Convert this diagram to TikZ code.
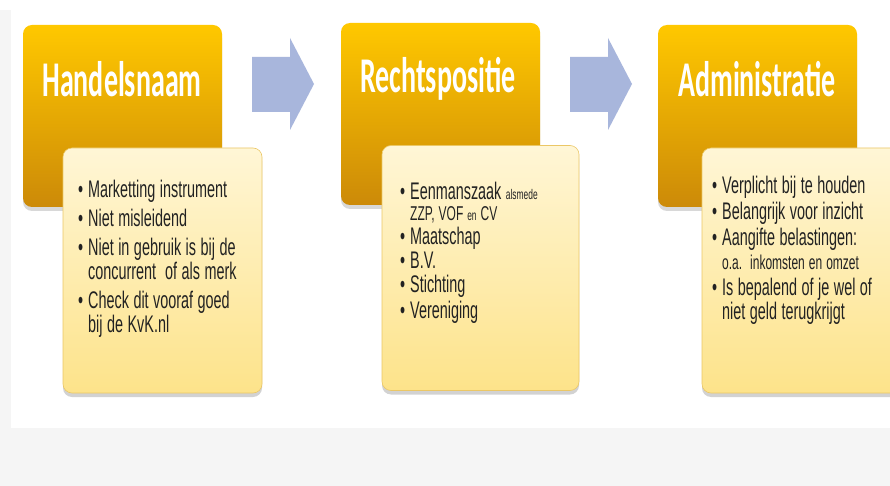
\documentclass[tikz,border=0pt]{standalone}
\usepackage{fontspec}
\setmainfont{Liberation Sans}[FakeStretch=0.6]
\newfontfamily\headfont{Carlito}[FakeStretch=0.56]
\usetikzlibrary{positioning,shadows}

\definecolor{bggray}{HTML}{F5F5F5}
\definecolor{orangetop}{HTML}{FFC800}
\definecolor{orangebot}{HTML}{CC8A08}
\definecolor{creamtop}{HTML}{FFF6D6}
\definecolor{creambot}{HTML}{FDE38A}
\definecolor{creamline}{HTML}{EBC766}
\definecolor{arrowblue}{HTML}{A8B6DC}
\definecolor{textgray}{HTML}{222222}

\newenvironment{bulletlist}{\begin{list}{\textbullet}{%
  \setlength{\leftmargin}{11pt}\setlength{\labelwidth}{6pt}%
  \setlength{\labelsep}{5pt}\setlength{\itemsep}{5pt}%
  \setlength{\parsep}{0pt}\setlength{\topsep}{0pt}\setlength{\partopsep}{0pt}}%
  \spaceskip=4.5pt plus 1pt minus 1pt\relax\xspaceskip=5pt\relax}%
  {\end{list}}
\newcommand{\itemfont}{\fontsize{24}{24}\selectfont}
\newcommand{\smallfont}{\fontsize{20}{20}\selectfont\spaceskip=4pt plus 1pt minus 1pt\relax}
\newcommand{\tinyword}[1]{{\fontsize{14}{14}\selectfont\spaceskip=3pt\relax #1}}

\tikzset{
  headbox/.style={rounded corners=9pt, top color=orangetop, bottom color=orangebot,
    minimum width=199pt, minimum height=182pt, inner sep=0pt,
    drop shadow={shadow xshift=0pt, shadow yshift=-4pt, opacity=0.3}},
  notebox/.style={rounded corners=9pt, draw=creamline, line width=0.6pt,
    top color=creamtop, bottom color=creambot, minimum width=199pt,
    minimum height=245pt, inner sep=0pt,
    drop shadow={shadow xshift=0pt, shadow yshift=-4pt, opacity=0.35}},
  headtext/.style={text=white, inner sep=0pt,
    font=\headfont\bfseries\fontsize{50}{50}\selectfont},
  itemtext/.style={text=textgray, text width=190pt, align=left, anchor=north west,
    inner sep=0pt, font=\itemfont},
  flowarrow/.style={fill=arrowblue},
}

\begin{document}
\begin{tikzpicture}[x=1pt, y=-1pt]
  \clip (0,0) rectangle (890,486);
  \fill[bggray] (0,0) rectangle (890,486);
  \fill[white] (11,0) rectangle (890,428);
  \fill[white] (0,0) rectangle (11,10);

  \node[headbox] (hnaam) at (122.5,116) {};
  \node[headbox] (rpos) at (440.5,114) {};
  \node[headbox] (admin) at (757.5,116) {};

  \node[headtext] (hnaamtitle) at (122,79) {Handelsnaam};
  \node[headtext] (rpostitle) at (438,79) {Rechtspositie};
  \node[headtext] (admintitle) at (757,79) {Administratie};

  \fill[flowarrow] (252,57) -- (290,57) -- (290,38) -- (314,84) -- (290,130)
    -- (290,112) -- (252,112) -- cycle;
  \fill[flowarrow] (570,57) -- (608,57) -- (608,38) -- (632,84) -- (608,130)
    -- (608,112) -- (570,112) -- cycle;

  \node[notebox] (hnaamnote) at (162.5,270.5) {};
  \node[notebox, minimum width=197pt] (rposnote) at (480.5,268) {};
  \node[notebox] (adminnote) at (801.5,270.5) {};

  \node[itemtext] (hnaamitems) at (77,173) {%
    \begin{bulletlist}
      \item Marketting instrument
      \item Niet misleidend
      \item Niet in gebruik is bij de\newline concurrent\ \ of als merk
      \item Check dit vooraf goed\newline bij de KvK.nl
    \end{bulletlist}};
  \node[itemtext] (rpositems) at (399,175) {%
    \begin{bulletlist}
      \setlength{\itemsep}{0pt}
      \item Eenmanszaak \tinyword{alsmede}\par
        \vspace{-3pt}{\smallfont ZZP, VOF \tinyword{en} CV}
      \item Maatschap
      \item B.V.
      \item Stichting\vspace{2pt}
      \item Vereniging
    \end{bulletlist}};
  \node[itemtext] (adminitems) at (711,169) {%
    \begin{bulletlist}
      \setlength{\itemsep}{2pt}
      \item Verplicht bij te houden
      \item Belangrijk voor inzicht
      \item Aangifte belastingen:\newline
        {\smallfont o.a.\ \ inkomsten en omzet}
      \item Is bepalend of je wel of\newline niet geld terugkrijgt
    \end{bulletlist}};
\end{tikzpicture}
\end{document}
